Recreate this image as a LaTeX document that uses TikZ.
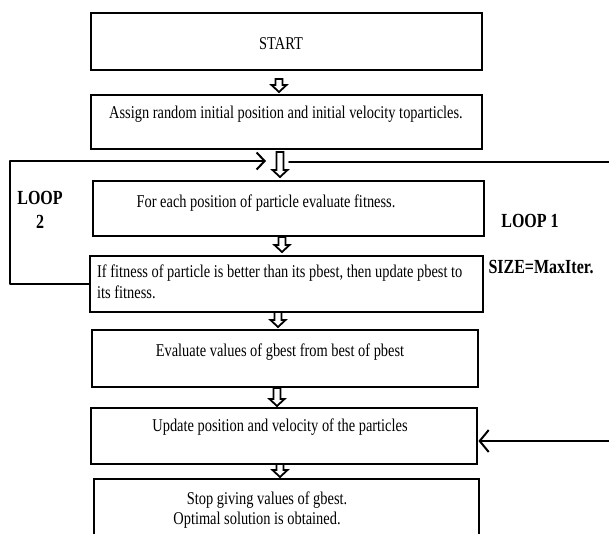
\documentclass[tikz,border=0pt]{standalone}
\usepackage{fontspec}
\setmainfont{Liberation Serif}
\usetikzlibrary{arrows.meta}
\newcommand{\sq}[1]{\scalebox{0.8}[1]{#1}}
\newcommand{\blockarrow}[3]{\draw[blk] ({#1-3.5},#2) -- ({#1+3.5},#2) -- ({#1+3.5},{#3-7}) -- ({#1+7.5},{#3-7}) -- (#1,#3) -- ({#1-7.5},{#3-7}) -- ({#1-3.5},{#3-7}) -- cycle;}
\begin{document}
\begin{tikzpicture}[x=1pt,y=-1pt,
  box/.style={draw, line width=2.4pt, rectangle, inner sep=0pt, anchor=north west},
  txt/.style={inner sep=0pt, font=\fontsize{18}{22}\selectfont},
  lbl/.style={inner sep=0pt, font=\bfseries\fontsize{20}{24}\selectfont, align=center},
  conn/.style={line width=2pt, line join=round, line cap=round},
  blk/.style={draw, line width=1.8pt, fill=white, line join=miter}]
\clip (0,0) rectangle (609,533);
\fill[white] (0,0) rectangle (609,533);

% boxes
\node[box, minimum width=391pt, minimum height=57pt] (start) at (90,12) {};
\node[box, minimum width=391pt, minimum height=54pt] (assign) at (90,94) {};
\node[box, minimum width=391pt, minimum height=55pt] (each) at (92,180) {};
\node[box, minimum width=393pt, minimum height=56pt] (iff) at (89,255) {};
\node[box, minimum width=386pt, minimum height=57pt] (eval) at (91,329) {};
\node[box, minimum width=386pt, minimum height=56pt] (upd) at (90,407) {};
\node[box, minimum width=385pt, minimum height=70pt] (stop) at (93,478) {};

% texts
\node[txt] (tstart) at (281,44) {\sq{START}};
\node[txt] (tassign) at (286,114) {\sq{Assign random initial position and initial velocity toparticles.}};
\node[txt] (teach) at (266,203) {\sq{For each position of particle evaluate fitness.}};
\node[txt, anchor=base west] (tif1) at (97,277) {\sq{If fitness of particle is better than its pbest, then update pbest to}};
\node[txt, anchor=base west] (tif2) at (97,298) {\sq{its fitness.}};
\node[txt] (teval) at (280,352) {\sq{Evaluate values of gbest from best of pbest}};
\node[txt] (tupd) at (280,427) {\sq{Update position and velocity of the particles}};
\node[txt] (tstop1) at (267,500) {\sq{Stop giving values of gbest.}};
\node[txt] (tstop2) at (257,520) {\sq{Optimal solution is obtained.}};

\node[lbl] (loop2) at (40,210) {\sq{LOOP}\\\sq{2}};
\node[lbl] (loop1) at (530,221) {\sq{LOOP 1}};
\node[lbl] (size) at (541,267) {\sq{SIZE=MaxIter.}};

% loops
\coordinate (l2a) at (10,161);
\coordinate (l2tip) at (266,161);
\draw[conn, -{Straight Barb[length=8pt,width=17pt,line width=2pt]}]
  (iff.west) -- (iff.west -| l2a) -- (l2a) -- (l2tip);
\coordinate (l1a) at (289,162);
\coordinate (l1b) at (609,162);
\draw[conn] (l1a) -- (l1b);
\coordinate (l1c) at (609,441);
\draw[conn, -{Straight Barb[length=9pt,width=22pt,line width=2pt]}]
  (l1c) -- (l1c -| upd.east);

% block arrows
\blockarrow{279}{79}{92}
\blockarrow{280}{152}{177}
\blockarrow{282}{237}{252}
\blockarrow{278}{312}{327}
\blockarrow{277}{388}{406}
\blockarrow{280}{464}{477}
\end{tikzpicture}
\end{document}
